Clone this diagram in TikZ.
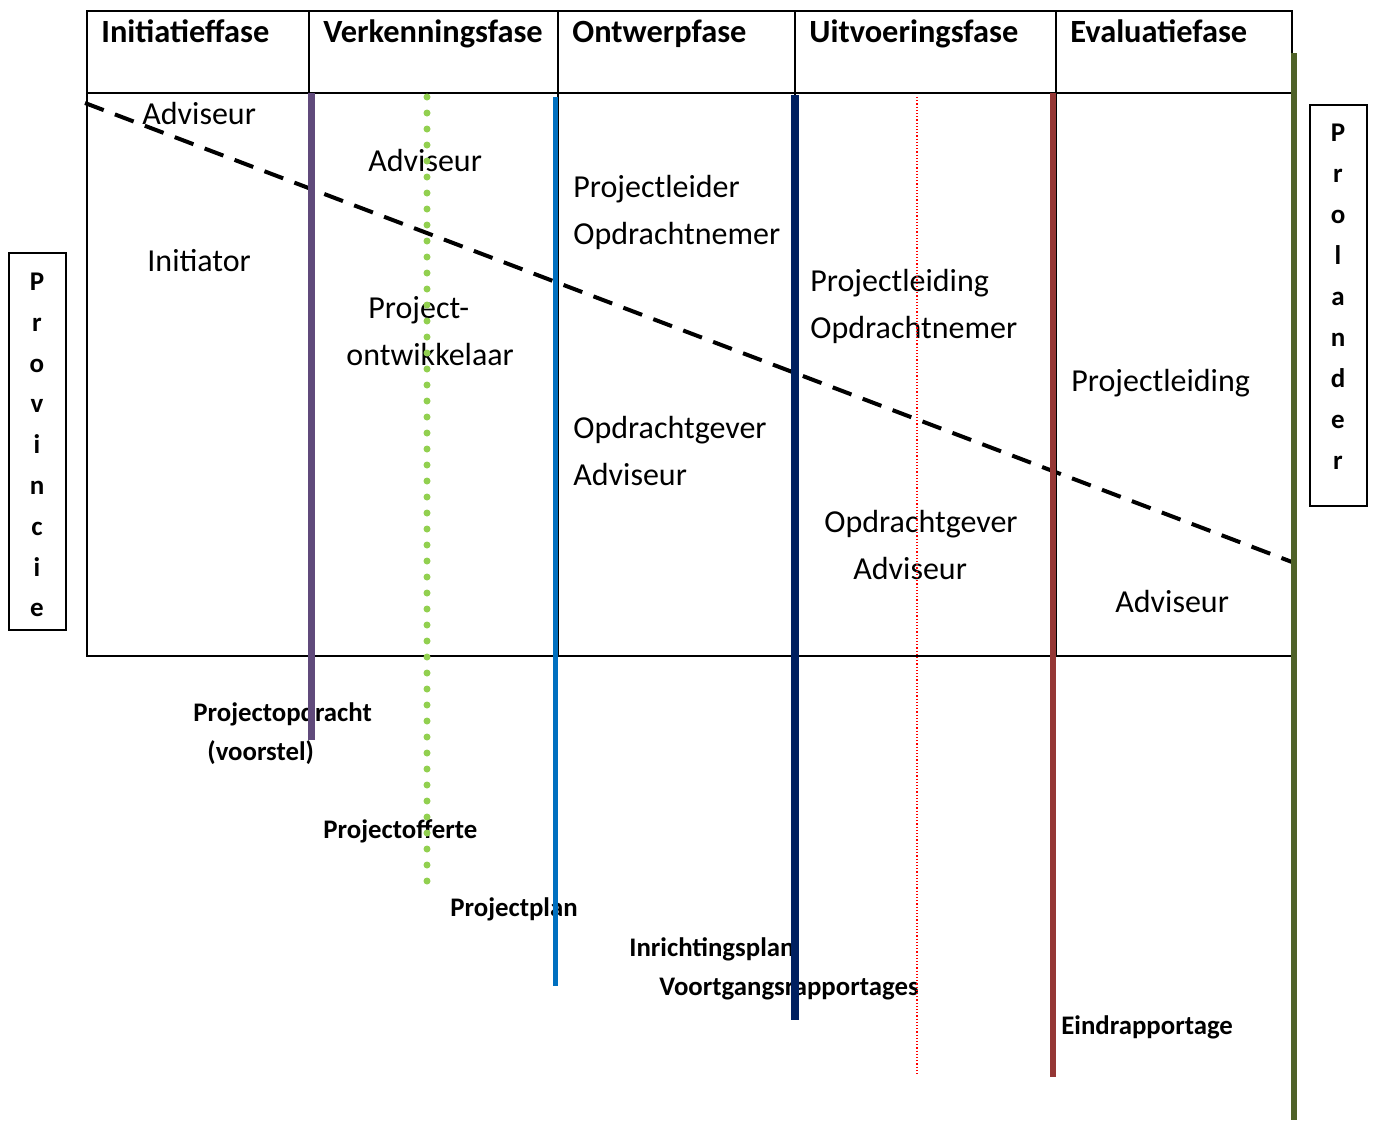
\documentclass[tikz,border=0pt]{standalone}
\usepackage{fontspec}
\setmainfont{Carlito}
\definecolor{paars}{HTML}{604A7B}
\definecolor{groen}{HTML}{92D050}
\definecolor{blauw}{HTML}{0070C0}
\definecolor{marine}{HTML}{002060}
\definecolor{bruinrood}{HTML}{953735}
\definecolor{olijf}{HTML}{4F6228}
\tikzset{
  rol/.style={anchor=base west, inner sep=0, font=\fontsize{16}{19}\selectfont},
  fase/.style={anchor=base west, inner sep=0, font=\fontsize{16.2}{19}\selectfont\bfseries},
  stuk/.style={anchor=base west, inner sep=0, font=\fontsize{13.4}{16}\selectfont\bfseries},
  letter/.style={anchor=base, inner sep=0, font=\fontsize{13.5}{16}\selectfont\bfseries},
  kader/.style={draw, line width=0.8pt},
}
\begin{document}
\begin{tikzpicture}[x=0.5pt, y=-0.5pt]
\useasboundingbox (0,0) rectangle (1374,1120);
% tabel
\draw[line width=1.2pt] (87,11) rectangle (1292,656);
\draw[line width=1.2pt] (87,93) -- (1292,93);
\foreach \x in {309,558,795,1056}
  \draw[line width=1.2pt] (\x,11) -- (\x,656);
\node[fase] (f0) at (101,42){Initiatieffase};
\node[fase] (f1) at (323,42){Verkenningsfase};
\node[fase] (f2) at (572,42){Ontwerpfase};
\node[fase] (f3) at (809,42){Uitvoeringsfase};
\node[fase] (f4) at (1070,42){Evaluatiefase};
% rollen
\node[rol] (r0) at (142,124){Adviseur};
\node[rol] (r1) at (147,271){Initiator};
\node[rol] (r2) at (368,171){Adviseur};
\node[rol] (r3) at (368,318){Project-};
\node[rol] (r4) at (346,365){ontwikkelaar};
\node[rol] (r5) at (573,197){Projectleider};
\node[rol] (r6) at (573,244){Opdrachtnemer};
\node[rol] (r7) at (573,438){Opdrachtgever};
\node[rol] (r8) at (573,485){Adviseur};
\node[rol] (r9) at (810,291){Projectleiding};
\node[rol] (r10) at (810,338){Opdrachtnemer};
\node[rol] (r11) at (824,532){Opdrachtgever};
\node[rol] (r12) at (853,579){Adviseur};
\node[rol] (r13) at (1071,391){Projectleiding};
\node[rol] (r14) at (1115,612){Adviseur};
% producten
\node[stuk] (p0) at (193,721){Projectopdracht};
\node[stuk] (p1) at (207,760){(voorstel)};
\node[stuk] (p2) at (323,838){Projectofferte};
\node[stuk] (p3) at (450,916){Projectplan};
\node[stuk] (p4) at (629,956){Inrichtingsplan};
\node[stuk] (p5) at (659,995){Voortgangsrapportages};
\node[stuk] (p6) at (1061,1034){Eindrapportage};
% provincie en prolander
\draw[kader] (9,253) rectangle (66,630);
\foreach \l [count=\i from 0] in {P,r,o,v,i,n,c,i,e}
  \node[letter] (prov\i) at (37,290.5+40.8*\i){\l};
\draw[kader] (1310,105) rectangle (1367,506);
\foreach \l [count=\i from 0] in {P,r,o,l,a,n,d,e,r}
  \node[letter] (prol\i) at (1338,141.5+41*\i){\l};
% lijnen
\coordinate (s0) at (85,103);
\coordinate (s1) at (1292,562);
\draw[line width=2pt, dash pattern=on 10pt off 6pt] (s0) -- (s1);
\coordinate (a0) at (311,93);
\coordinate (a1) at (311,740);
\draw[paars, line width=3.5pt] (a0) -- (a1);
\coordinate (b0) at (427,97);
\coordinate (b1) at (427,885);
\draw[groen, line width=3.5pt, line cap=round, dash pattern=on 0pt off 8pt] (b0) -- (b1);
\coordinate (c0) at (555,97);
\coordinate (c1) at (555,986);
\draw[blauw, line width=2.5pt] (c0) -- (c1);
\coordinate (d0) at (795,95);
\coordinate (d1) at (795,1020);
\draw[marine, line width=4pt] (d0) -- (d1);
\coordinate (e0) at (917,97);
\coordinate (e1) at (917,1075);
\draw[red, line width=0.6pt, dash pattern=on 0.6pt off 1pt] (e0) -- (e1);
\coordinate (g0) at (1053,93);
\coordinate (g1) at (1053,1077);
\draw[bruinrood, line width=3pt] (g0) -- (g1);
\coordinate (h0) at (1294,53);
\coordinate (h1) at (1294,1120);
\draw[olijf, line width=3pt] (h0) -- (h1);
\end{tikzpicture}
\end{document}
